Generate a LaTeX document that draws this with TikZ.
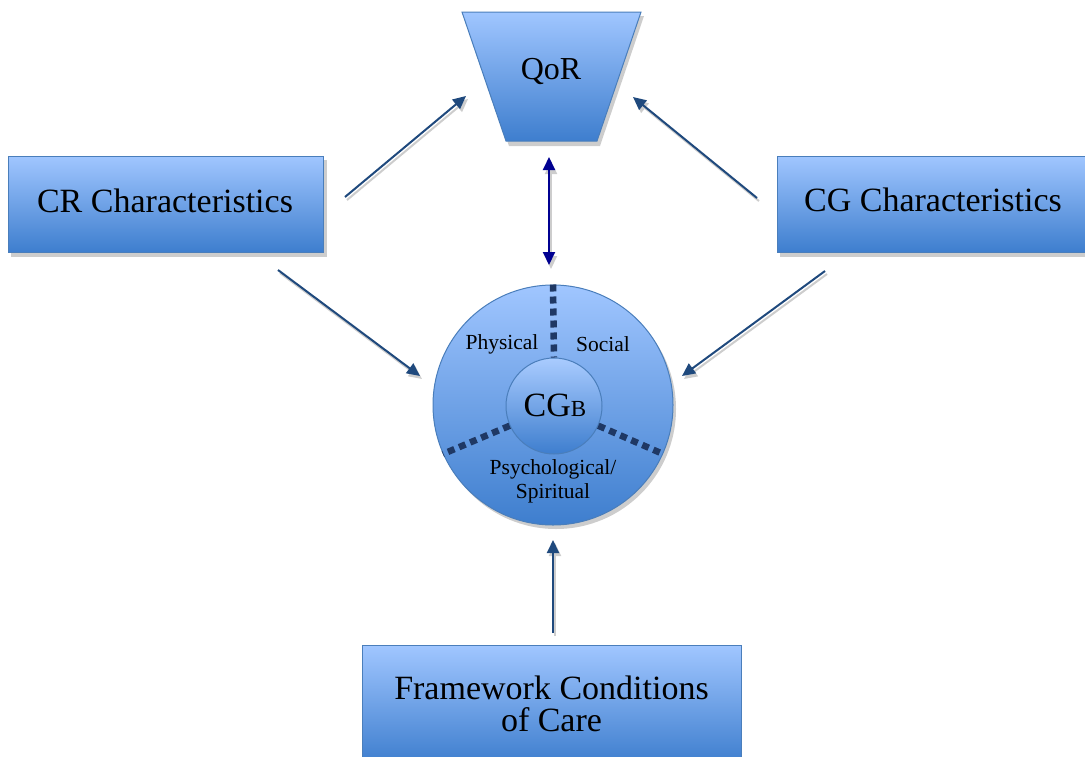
\documentclass[tikz,border=0pt]{standalone}
\usepackage{fontspec}
\setmainfont{Liberation Serif}
\usetikzlibrary{arrows.meta}
\definecolor{boxtop}{RGB}{160,198,255}
\definecolor{boxbot}{RGB}{62,126,206}
\definecolor{boxline}{RGB}{74,126,187}
\definecolor{arrowc}{RGB}{31,73,125}
\definecolor{navyc}{RGB}{0,0,145}
\definecolor{dashc}{RGB}{31,56,100}
\definecolor{shadowc}{RGB}{205,205,205}
\begin{document}
\begin{tikzpicture}[x=1pt,y=-1pt,
  boxsty/.style={draw=boxline, line width=1pt, top color=boxtop, bottom color=boxbot, inner sep=0pt},
  txt/.style={inner sep=0pt, align=center, font=\fontsize{34}{32}\selectfont},
  shadowsty/.style={fill=shadowc, draw=none},
  tip/.style={-{Triangle[length=13pt,width=12pt]}},
  arr/.style={draw=arrowc, line width=2pt, tip},
  arrshadow/.style={draw=shadowc, line width=2pt, tip},
  dashsty/.style={draw=dashc, line width=6.5pt, dash pattern=on 7pt off 5pt},
  lbl/.style={font=\fontsize{21.5}{24}\selectfont, align=center, inner sep=0pt}
  ]
\useasboundingbox (0,0) rectangle (1085,756);

% shadows of boxes
\fill[shadowsty] (11,160) rectangle (327,257);
\fill[shadowsty] (780,160) rectangle (1090,257);
\fill[shadowsty] (465,16) -- (644,16) -- (600,146) -- (509,146) -- cycle;
\fill[shadowsty] (556,409) circle[radius=120];

% boxes
\node[boxsty, minimum width=315pt, minimum height=96pt] (cr) at (165.5,204) {};
\node[txt] (crt) at (165,201) {CR Characteristics};
\node[boxsty, minimum width=308pt, minimum height=96pt] (cg) at (931,204) {};
\node[txt] (cgt) at (933,200) {CG Characteristics};
\node[boxsty, minimum width=379pt, minimum height=118pt, anchor=north] (fw) at (551.5,645) {};
\node[txt] (fwt) at (551.5,704) {Framework Conditions\\of Care};

% QoR trapezoid
\shade[top color=boxtop, bottom color=boxbot, draw=boxline, line width=1pt]
  (462,12) -- (641,12) -- (597,141) -- (506,141) -- cycle;
\node[font=\fontsize{32}{36}\selectfont, inner sep=0pt] (qor) at (551,71) {QoR};

% circles
\node[circle, draw=boxline, line width=1pt, top color=boxtop, bottom color=boxbot, minimum size=240pt, inner sep=0pt] (outer) at (553,405) {};
\node[circle, draw=boxline, line width=1pt, top color=boxtop!90!white, bottom color=boxbot, minimum size=96pt, inner sep=0pt] (inner) at (554,406) {};
\node[inner sep=0pt] (cgb) at (555,405) {\fontsize{34}{40}\selectfont CG\fontsize{23}{28}\selectfont B};

% dashed spokes
\draw[dashsty] (outer.90) -- (inner.90);
\draw[dashsty] (inner.204) -- (outer.204);
\draw[dashsty] (inner.336) -- (outer.336);

% labels
\node[lbl] (phys) at (502,344) {Physical};
\node[lbl] (soc) at (603,344) {Social};
\node[lbl] (psy) at (553,481) {Psychological/\\Spiritual};

% arrow end points
\coordinate (a1s) at (345,197); \coordinate (a1e) at (466,96);
\coordinate (a2s) at (757,198); \coordinate (a2e) at (633,97);
\coordinate (a3s) at (278,270); \coordinate (a3e) at (420,376);
\coordinate (a4s) at (825,271); \coordinate (a4e) at (682,376);
\coordinate (a5s) at (553,633); \coordinate (a5e) at (553,540);
\coordinate (d1) at (549,157); \coordinate (d2) at (549,265);

% arrow shadows
\foreach \s/\e in {a1s/a1e,a2s/a2e,a3s/a3e,a4s/a4e,a5s/a5e}
  \draw[arrshadow] ([shift={(2,3)}]\s) -- ([shift={(2,3)}]\e);
\draw[draw=shadowc, line width=2pt, {Triangle[length=13pt,width=12pt]}-{Triangle[length=13pt,width=12pt]}] ([shift={(2,4)}]d1) -- ([shift={(2,4)}]d2);

% arrows
\draw[arr] (a1s) -- (a1e);
\draw[arr] (a2s) -- (a2e);
\draw[arr] (a3s) -- (a3e);
\draw[arr] (a4s) -- (a4e);
\draw[arr] (a5s) -- (a5e);
\draw[draw=navyc, line width=2pt, {Triangle[length=13pt,width=12pt]}-{Triangle[length=13pt,width=12pt]}] (d1) -- (d2);
\end{tikzpicture}
\end{document}
